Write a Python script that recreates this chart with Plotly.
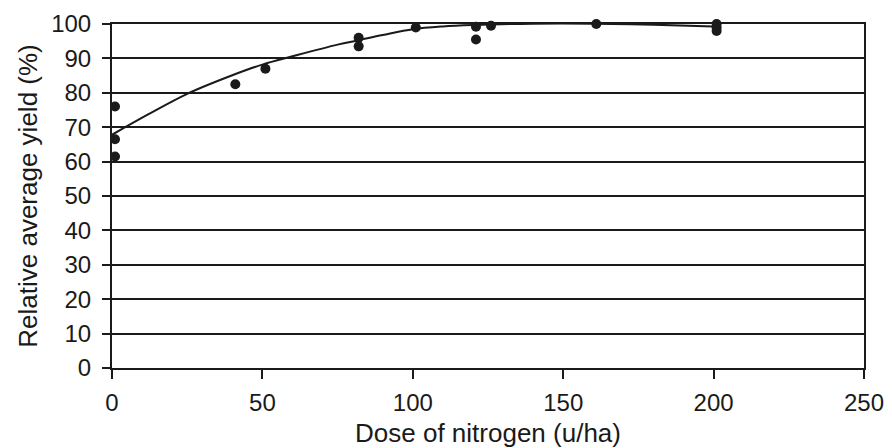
import plotly.graph_objects as go

# Observed data points
dose = [1, 1, 1, 41, 51, 77, 82, 82, 101, 121, 121, 126, 161, 201, 201, 201]
yield_pct = [76, 66.5, 61.5, 82.5, 87, 100.5, 96, 93.5, 99, 99.2, 95.5, 99.5, 100, 100, 99, 98]

# Fitted response curve
curve_dose = [0, 12, 25, 40, 50, 60, 75, 82, 90, 100, 110, 120, 140, 160, 180, 200]
curve_yield = [67.8, 73.7, 79.7, 85.1, 88.2, 90.6, 94.0, 95.3, 96.8, 98.5, 99.3, 99.7,
               100.1, 100.1, 99.8, 99.3]

x_ticks = [0, 50, 100, 150, 200, 250]
y_ticks = [0, 10, 20, 30, 40, 50, 60, 70, 80, 90, 100]

FONT = "Liberation Sans, Arial, sans-serif"
INK = "#1a1a1a"

fig = go.Figure()
fig.add_trace(go.Scatter(
    x=curve_dose, y=curve_yield, mode="lines",
    line=dict(color=INK, width=2, shape="spline", smoothing=1.0),
    cliponaxis=False, hoverinfo="skip", showlegend=False))
fig.add_trace(go.Scatter(
    x=dose, y=yield_pct, mode="markers",
    marker=dict(color=INK, size=10),
    cliponaxis=False, showlegend=False))
# invisible trace to host inside ticks on the y axis
fig.add_trace(go.Scatter(x=[None], y=[None], yaxis="y2", showlegend=False))

fig.update_layout(
    width=892, height=448,
    margin=dict(l=112, r=28, t=24, b=80),
    paper_bgcolor="white", plot_bgcolor="white",
    font=dict(family=FONT, size=22, color=INK),
    xaxis=dict(
        range=[0, 250], tickvals=x_ticks, ticks="outside", ticklen=9,
        tickwidth=2, tickcolor=INK, showgrid=False, zeroline=False,
        showline=True, linecolor=INK, linewidth=2, mirror=True,
        automargin=False, ticklabelstandoff=3,
        title=dict(text="Dose of nitrogen (u/ha)", standoff=10),
        tickfont=dict(size=24)),
    yaxis=dict(
        range=[0, 100], tickvals=y_ticks, ticks="outside", ticklen=8,
        tickwidth=2, tickcolor=INK, showgrid=True, gridcolor=INK,
        gridwidth=2, zeroline=False, showline=True, linecolor=INK,
        linewidth=2, mirror=True, automargin=False, ticklabelstandoff=6,
        title=dict(text="Relative average yield (%)", standoff=6),
        tickfont=dict(size=24)),
    yaxis2=dict(
        range=[0, 100], overlaying="y", side="left", tickvals=y_ticks,
        ticks="inside", ticklen=6, tickwidth=2, tickcolor=INK,
        showticklabels=False, showgrid=False, zeroline=False, showline=False,
        automargin=False),
)

fig.write_html("out.html")
